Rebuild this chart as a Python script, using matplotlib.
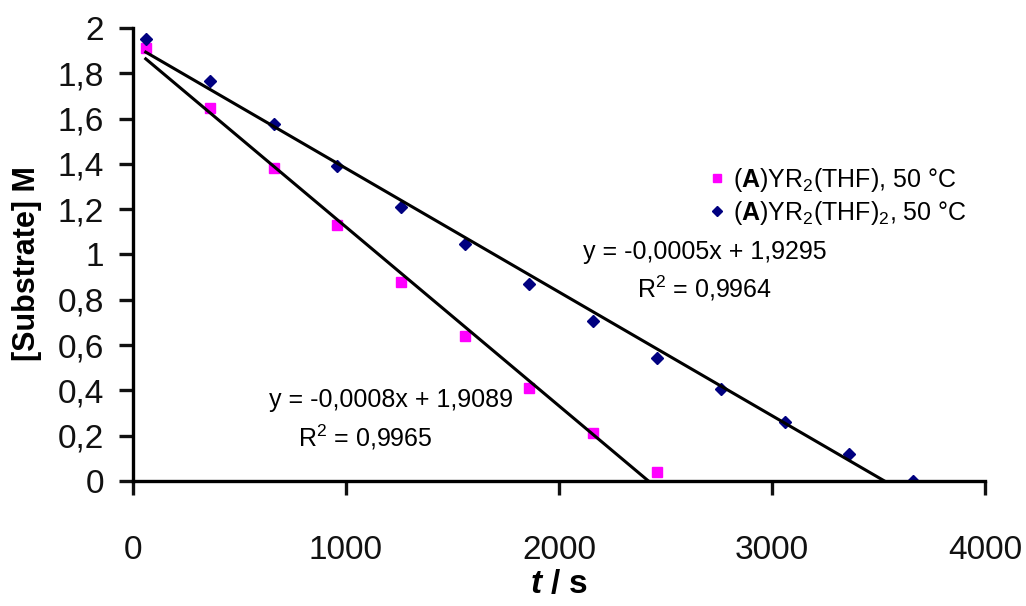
import numpy as np
import matplotlib.pyplot as plt
from matplotlib.ticker import FuncFormatter

plt.rcParams['font.family'] = ['Liberation Sans', 'DejaVu Sans']
plt.rcParams['mathtext.fontset'] = 'custom'
plt.rcParams['mathtext.rm'] = 'Liberation Sans'
plt.rcParams['mathtext.it'] = 'Liberation Sans:italic'
plt.rcParams['mathtext.bf'] = 'Liberation Sans:bold'
plt.rcParams['mathtext.bfit'] = 'Liberation Sans:bold:italic'

# data
t_thf = [60, 360, 660, 960, 1260, 1560, 1860, 2160, 2460]
c_thf = [1.91, 1.645, 1.38, 1.13, 0.88, 0.64, 0.41, 0.21, 0.04]

t_thf2 = [60, 360, 660, 960, 1260, 1560, 1860, 2160, 2460, 2760, 3060, 3360, 3660]
c_thf2 = [1.95, 1.765, 1.575, 1.39, 1.21, 1.045, 0.87, 0.705, 0.545, 0.405, 0.26, 0.12, 0.0]

label_thf = r'($\mathbf{A}$)YR$_2$(THF), 50 °C'
label_thf2 = r'($\mathbf{A}$)YR$_2$(THF)$_2$, 50 °C'
eq_thf = ['y = -0,0008x + 1,9089', r'R$^2$ = 0,9965']
eq_thf2 = ['y = -0,0005x + 1,9295', r'R$^2$ = 0,9964']

fig = plt.figure(figsize=(10.26, 6.06), dpi=100)
ax = fig.add_axes([0.1296, 0.2063, 0.8304, 0.7475])

ax.plot(t_thf, c_thf, 's', color='#ff00ff', ms=7.5, ls='none', label=label_thf, zorder=2)
ax.plot(t_thf2, c_thf2, 'D', color='#000080', ms=6, ls='none', label=label_thf2, zorder=2)

# linear trend lines (fit over the data range, clipped at y=0)
for t, c in [(t_thf, c_thf), (t_thf2, c_thf2)]:
    k, b = np.polyfit(t, c, 1)
    tt = np.array([min(t), max(t)])
    ax.plot(tt, k * tt + b, color='black', lw=2.2, zorder=3)

ax.text(1211, 0.358, eq_thf[0], fontsize=18, ha='center', va='center')
ax.text(1089, 0.194, eq_thf[1], fontsize=18, ha='center', va='center')
ax.text(2685, 1.011, eq_thf2[0], fontsize=18, ha='center', va='center')
ax.text(2685, 0.852, eq_thf2[1], fontsize=18, ha='center', va='center')

ax.set_xlim(0, 4000)
ax.set_ylim(0, 2)
ax.set_xticks([0, 1000, 2000, 3000, 4000])
ax.set_yticks(np.arange(0, 2.01, 0.2))
ax.yaxis.set_major_formatter(FuncFormatter(lambda v, p: ('%g' % round(v, 1)).replace('.', ',')))

for s in ['top', 'right']:
    ax.spines[s].set_visible(False)
for s in ['left', 'bottom']:
    ax.spines[s].set_linewidth(2.4)
ax.tick_params(axis='both', direction='out', length=10, width=2.4, labelsize=24, colors='#111111')
ax.tick_params(axis='y', pad=11)
ax.tick_params(axis='x', pad=29)

ax.set_xlabel(r'$\mathbfit{t}$ / s', fontsize=24, fontweight='bold', labelpad=2)
ax.set_ylabel('[Substrate] M', fontsize=22, fontweight='bold')
ax.yaxis.set_label_coords(-0.107, 0.479)

fig.legend(loc='center left', bbox_to_anchor=(0.6867, 0.676), frameon=False, fontsize=18,
           borderaxespad=0, borderpad=0, handletextpad=0.15, labelspacing=0.2,
           handlelength=1.0, markerscale=0.85)

fig.savefig('out.png', dpi=100)
